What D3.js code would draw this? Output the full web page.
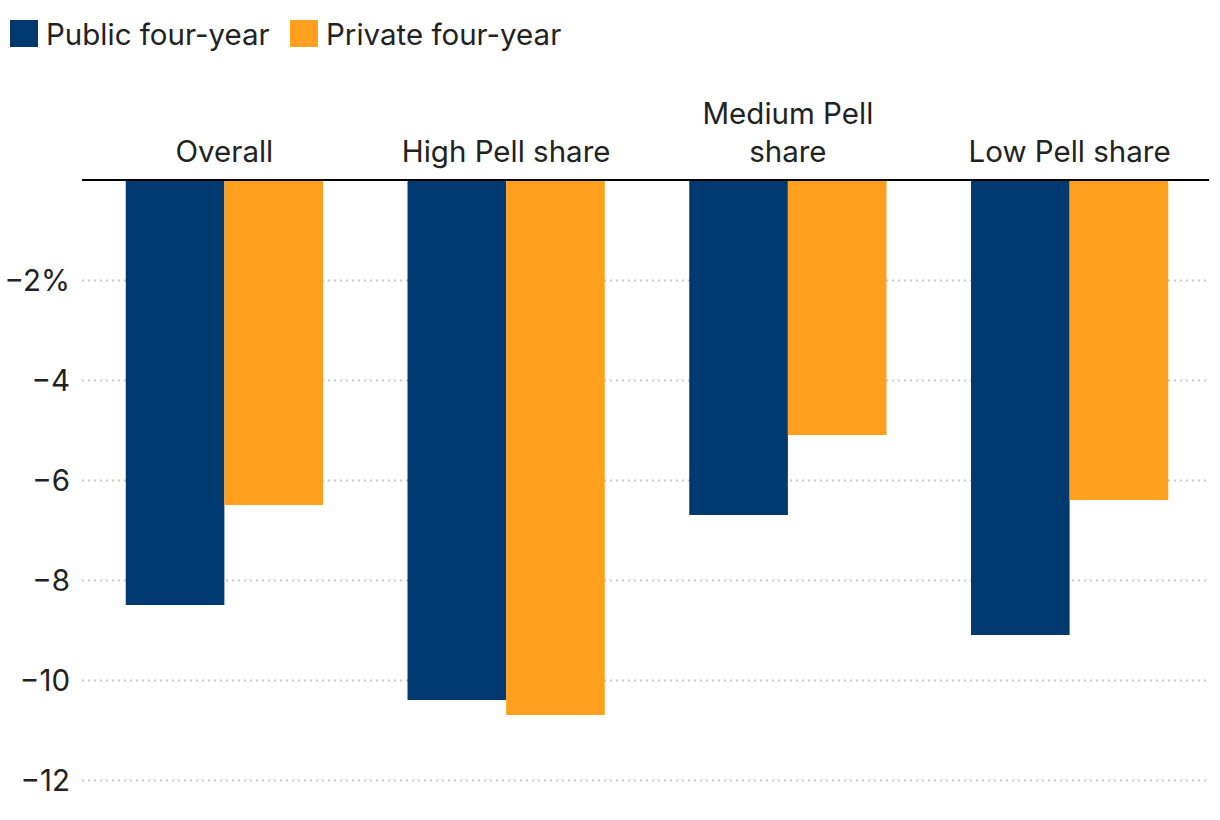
<!DOCTYPE html>
<html>
<head>
<meta charset="utf-8">
<script src="https://cdn.jsdelivr.net/npm/d3@7"></script>
<style>
  html, body { margin: 0; padding: 0; background: #fff; }
  svg { display: block; font-family: Inter, "Noto Sans", sans-serif; }
</style>
</head>
<body>
<svg id="chart" width="1220" height="820"></svg>
<script>
const categories = [["Overall"], ["High Pell share"], ["Medium Pell", "share"], ["Low Pell share"]];
const categoryKeys = ["Overall", "High Pell share", "Medium Pell share", "Low Pell share"];
const seriesNames = ["Public four-year", "Private four-year"];
const publicValues = [-8.5, -10.4, -6.7, -9.1];
const privateValues = [-6.5, -10.7, -5.1, -6.4];
const yTicks = [-2, -4, -6, -8, -10, -12];
const colors = ["#003870", "#fe9f1e"];

const svg = d3.select("#chart");
const fontSize = 29.5;
const textColor = "#222";

const x0 = d3.scaleBand().domain(categoryKeys).range([83.5, 1210.5]).paddingInner(0.3).paddingOuter(0.15);
const x1 = d3.scaleBand().domain(seriesNames).range([0, x0.bandwidth()]);
const y = d3.scaleLinear().domain([-12, 0]).range([780, 180]);
const color = d3.scaleOrdinal().domain(seriesNames).range(colors);

// gridlines + tick labels
const yAxis = d3.axisLeft(y).tickValues(yTicks).tickSize(-(1209 - 82))
  .tickFormat((d, i) => (i === 0 ? "\u2212" + Math.abs(d) + "%" : "\u2212" + Math.abs(d)));
const gy = svg.append("g").attr("transform", "translate(82,0)").call(yAxis);
gy.select(".domain").remove();
gy.selectAll(".tick line").attr("stroke", "#c8c8c8").attr("stroke-width", 2).attr("stroke-dasharray", "2,4");
gy.selectAll(".tick text").attr("x", -12).attr("dy", "0.35em")
  .attr("font-size", fontSize).attr("fill", textColor).attr("font-family", "Inter, sans-serif");

// bars
const data = categoryKeys.map((c, i) => ({ cat: c, vals: [
  { s: seriesNames[0], v: publicValues[i] },
  { s: seriesNames[1], v: privateValues[i] }
]}));
const groups = svg.append("g").selectAll("g").data(data).join("g")
  .attr("transform", d => `translate(${x0(d.cat)},0)`);
groups.selectAll("rect").data(d => d.vals).join("rect")
  .attr("x", d => x1(d.s))
  .attr("width", x1.bandwidth())
  .attr("y", d => y(0))
  .attr("height", d => y(d.v) - y(0))
  .attr("fill", d => color(d.s));

// zero line
svg.append("line").attr("x1", 82).attr("x2", 1209).attr("y1", y(0)).attr("y2", y(0))
  .attr("stroke", "#000").attr("stroke-width", 2);

// category labels
const lab = svg.append("g").selectAll("text").data(categoryKeys).join("text")
  .attr("x", d => x0(d) + x0.bandwidth() / 2)
  .attr("text-anchor", "middle")
  .attr("font-size", fontSize).attr("fill", textColor);
lab.each(function (d, i) {
  const lines = categories[i];
  const t = d3.select(this);
  lines.forEach((ln, j) => {
    t.append("tspan").attr("x", x0(d) + x0.bandwidth() / 2)
      .attr("y", 162 - (lines.length - 1 - j) * 38).text(ln);
  });
});

// legend
const legendX = [10, 290];
const leg = svg.append("g").selectAll("g").data(seriesNames).join("g")
  .attr("transform", (d, i) => `translate(${legendX[i]},20)`);
leg.append("rect").attr("width", 28).attr("height", 27).attr("fill", d => color(d));
leg.append("text").attr("x", 36).attr("y", 24.5).attr("font-size", fontSize).attr("fill", textColor).text(d => d);
</script>
</body>
</html>
